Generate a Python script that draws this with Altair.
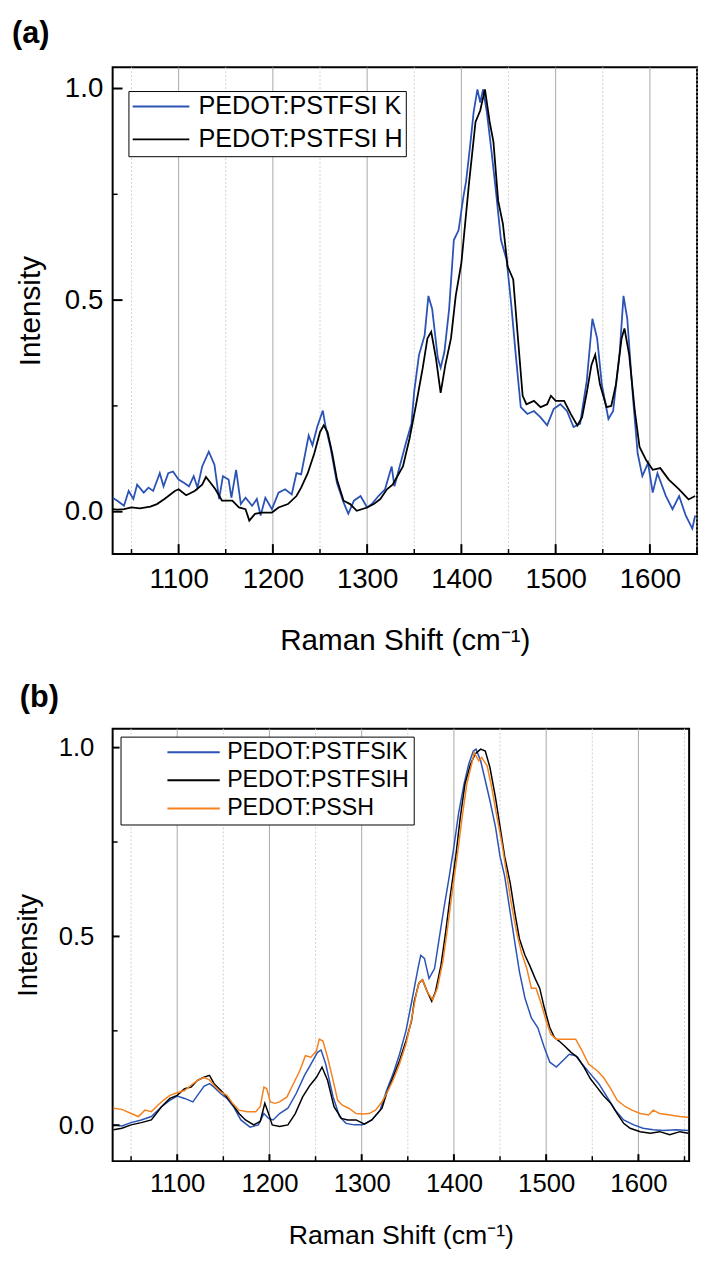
import altair as alt
import pandas as pd

FONT = "Liberation Sans"

# ---------------- Panel (a) data ----------------
a_k_shift = [1030, 1035, 1042, 1047, 1052, 1056, 1063, 1068, 1073, 1080, 1084, 1089, 1094, 1100,
             1106, 1111, 1116, 1120, 1125, 1132, 1138, 1143, 1147, 1153, 1156, 1161, 1166, 1171,
             1178, 1183, 1187, 1192, 1199, 1206, 1213, 1220, 1225, 1230, 1238, 1242, 1247, 1253,
             1256, 1261, 1268, 1275, 1280, 1286, 1293, 1300, 1305, 1312, 1319, 1326, 1329, 1336,
             1341, 1347, 1350, 1355, 1361, 1365, 1369, 1375, 1378, 1382, 1387, 1392, 1397, 1402,
             1405, 1409, 1413, 1417, 1420, 1423, 1427, 1432, 1437, 1442, 1448, 1453, 1458, 1463,
             1470, 1477, 1484, 1491, 1498, 1505, 1512, 1519, 1526, 1533, 1539, 1544, 1549, 1556,
             1561, 1568, 1572, 1576, 1582, 1587, 1592, 1598, 1603, 1608, 1617, 1624, 1631, 1638,
             1645, 1648]
a_k_int = [0.033, 0.026, 0.014, 0.049, 0.030, 0.064, 0.045, 0.057, 0.049, 0.091, 0.060, 0.091, 0.095, 0.076,
           0.068, 0.060, 0.084, 0.057, 0.107, 0.142, 0.111, 0.030, 0.084, 0.076, 0.033, 0.099, 0.018, 0.033,
           0.014, 0.030, -0.009, 0.033, 0.006, 0.045, 0.053, 0.041, 0.091, 0.088, 0.180, 0.157, 0.200, 0.239,
           0.200, 0.153, 0.068, 0.022, -0.005, 0.026, 0.037, 0.010, 0.018, 0.037, 0.053, 0.107, 0.060, 0.119,
           0.161, 0.208, 0.285, 0.370, 0.417, 0.510, 0.479, 0.363, 0.340, 0.378, 0.479, 0.642, 0.665, 0.742,
           0.781, 0.859, 0.944, 0.998, 0.967, 0.998, 0.944, 0.851, 0.750, 0.642, 0.595, 0.487, 0.363, 0.247,
           0.231, 0.238, 0.223, 0.204, 0.243, 0.254, 0.238, 0.200, 0.208, 0.309, 0.456, 0.410, 0.301, 0.219,
           0.238, 0.378, 0.510, 0.456, 0.270, 0.138, 0.084, 0.115, 0.045, 0.091, 0.037, 0.006, 0.037, -0.009,
           -0.040, -0.009]

a_h_shift = [1030, 1035, 1042, 1050, 1059, 1070, 1077, 1085, 1096, 1100, 1108, 1117, 1125, 1129,
             1134, 1139, 1146, 1157, 1164, 1171, 1175, 1181, 1188, 1199, 1206, 1216, 1225, 1230,
             1237, 1244, 1250, 1254, 1258, 1263, 1268, 1275, 1282, 1289, 1300, 1307, 1314, 1321,
             1327, 1338, 1345, 1352, 1359, 1364, 1368, 1373, 1378, 1383, 1389, 1394, 1400, 1408,
             1415, 1420, 1425, 1430, 1434, 1439, 1444, 1449, 1455, 1460, 1465, 1469, 1477, 1484,
             1491, 1495, 1500, 1509, 1516, 1523, 1528, 1533, 1538, 1542, 1547, 1554, 1559, 1564,
             1570, 1573, 1578, 1584, 1589, 1596, 1603, 1611, 1620, 1631, 1641, 1648]
a_h_int = [0.006, 0.005, 0.006, 0.010, 0.008, 0.012, 0.018, 0.030, 0.049, 0.053, 0.039, 0.049, 0.064, 0.082,
           0.068, 0.053, 0.026, 0.026, 0.010, 0.006, -0.021, -0.005, -0.002, -0.002, 0.010, 0.018, 0.037, 0.057,
           0.091, 0.138, 0.188, 0.204, 0.188, 0.138, 0.076, 0.026, 0.018, 0.002, 0.010, 0.018, 0.030, 0.053,
           0.064, 0.107, 0.173, 0.254, 0.340, 0.410, 0.425, 0.363, 0.281, 0.347, 0.410, 0.510, 0.588, 0.774,
           0.921, 0.948, 0.998, 0.921, 0.874, 0.735, 0.681, 0.580, 0.549, 0.410, 0.274, 0.254, 0.262, 0.247,
           0.254, 0.274, 0.262, 0.262, 0.231, 0.204, 0.223, 0.281, 0.347, 0.371, 0.301, 0.247, 0.250, 0.301,
           0.410, 0.433, 0.371, 0.238, 0.153, 0.122, 0.099, 0.103, 0.076, 0.053, 0.029, 0.037]

# ---------------- Panel (b) data ----------------
b_k_shift = [1031, 1040, 1050, 1061, 1072, 1083, 1092, 1100, 1108, 1117, 1122, 1129, 1135, 1140,
             1147, 1154, 1161, 1169, 1179, 1188, 1194, 1199, 1204, 1211, 1220, 1229, 1238, 1245,
             1252, 1256, 1261, 1269, 1276, 1283, 1292, 1301, 1311, 1320, 1327, 1334, 1341, 1348,
             1355, 1361, 1364, 1368, 1373, 1379, 1384, 1389, 1395, 1400, 1405, 1411, 1416, 1421,
             1424, 1429, 1434, 1439, 1445, 1450, 1455, 1461, 1466, 1471, 1477, 1484, 1491, 1498,
             1504, 1511, 1518, 1525, 1532, 1539, 1548, 1557, 1566, 1575, 1584, 1595, 1605, 1616,
             1627, 1641, 1654]
b_k_int = [0.001, -0.002, 0.007, 0.014, 0.023, 0.049, 0.066, 0.077, 0.071, 0.062, 0.079, 0.103, 0.110, 0.101,
           0.084, 0.071, 0.049, 0.014, -0.005, 0.001, 0.031, 0.018, 0.014, 0.031, 0.045, 0.084, 0.132, 0.162,
           0.193, 0.199, 0.162, 0.075, 0.023, 0.005, 0.001, 0.001, 0.014, 0.040, 0.092, 0.136, 0.188, 0.250,
           0.337, 0.415, 0.450, 0.442, 0.389, 0.415, 0.494, 0.572, 0.660, 0.738, 0.825, 0.904, 0.956, 0.991,
           0.996, 0.965, 0.913, 0.860, 0.791, 0.712, 0.660, 0.564, 0.485, 0.407, 0.337, 0.284, 0.258, 0.206,
           0.167, 0.154, 0.171, 0.188, 0.184, 0.162, 0.136, 0.110, 0.075, 0.040, 0.014, 0.001, -0.008, -0.012,
           -0.014, -0.012, -0.014]

b_h_shift = [1031, 1040, 1050, 1061, 1072, 1083, 1092, 1100, 1108, 1115, 1122, 1129, 1135, 1140,
             1149, 1158, 1167, 1174, 1183, 1190, 1195, 1199, 1203, 1211, 1220, 1228, 1236, 1244,
             1251, 1257, 1263, 1270, 1278, 1285, 1294, 1303, 1311, 1322, 1327, 1334, 1341, 1348,
             1354, 1357, 1362, 1366, 1371, 1376, 1380, 1386, 1391, 1396, 1402, 1407, 1412, 1418,
             1423, 1429, 1434, 1439, 1445, 1450, 1455, 1461, 1466, 1471, 1477, 1482, 1488, 1493,
             1498, 1504, 1509, 1514, 1520, 1527, 1534, 1541, 1548, 1555, 1562, 1570, 1577, 1584,
             1591, 1602, 1613, 1623, 1634, 1645, 1654]
b_h_int = [-0.012, -0.008, 0.001, 0.007, 0.014, 0.049, 0.071, 0.079, 0.097, 0.101, 0.119, 0.127, 0.132, 0.110,
           0.088, 0.062, 0.031, 0.014, 0.001, 0.010, 0.058, 0.031, 0.001, -0.003, 0.001, 0.031, 0.075, 0.106,
           0.127, 0.154, 0.119, 0.049, 0.018, 0.014, 0.014, 0.003, 0.014, 0.045, 0.084, 0.127, 0.171, 0.223,
           0.276, 0.328, 0.376, 0.385, 0.354, 0.328, 0.354, 0.424, 0.511, 0.607, 0.712, 0.817, 0.904, 0.956,
           0.983, 0.996, 0.991, 0.948, 0.869, 0.791, 0.712, 0.642, 0.564, 0.494, 0.450, 0.424, 0.389, 0.363,
           0.311, 0.258, 0.232, 0.223, 0.210, 0.193, 0.180, 0.154, 0.123, 0.101, 0.079, 0.058, 0.031, 0.005,
           -0.008, -0.017, -0.021, -0.017, -0.025, -0.017, -0.021]

b_s_shift = [1031, 1040, 1050, 1058, 1065, 1072, 1079, 1085, 1092, 1100, 1108, 1115, 1122, 1129,
             1135, 1140, 1147, 1154, 1160, 1167, 1176, 1185, 1190, 1194, 1197, 1201, 1206, 1211,
             1219, 1226, 1233, 1239, 1245, 1251, 1254, 1258, 1263, 1269, 1274, 1279, 1286, 1294,
             1301, 1308, 1315, 1322, 1327, 1334, 1341, 1348, 1354, 1359, 1362, 1366, 1371, 1377,
             1382, 1388, 1393, 1398, 1404, 1409, 1414, 1420, 1422, 1427, 1430, 1436, 1441, 1446,
             1452, 1457, 1462, 1468, 1473, 1479, 1484, 1489, 1495, 1500, 1505, 1511, 1518, 1525,
             1532, 1539, 1546, 1555, 1562, 1570, 1577, 1586, 1593, 1602, 1611, 1616, 1623, 1634,
             1645, 1654]
b_s_int = [0.045, 0.042, 0.031, 0.023, 0.040, 0.036, 0.053, 0.066, 0.079, 0.086, 0.092, 0.106, 0.119, 0.126,
           0.120, 0.106, 0.088, 0.079, 0.058, 0.040, 0.036, 0.036, 0.049, 0.101, 0.097, 0.062, 0.058, 0.062,
           0.075, 0.110, 0.145, 0.184, 0.180, 0.197, 0.228, 0.223, 0.180, 0.119, 0.066, 0.053, 0.045, 0.031,
           0.030, 0.031, 0.040, 0.062, 0.084, 0.119, 0.162, 0.215, 0.280, 0.346, 0.376, 0.385, 0.354, 0.332,
           0.363, 0.433, 0.520, 0.616, 0.721, 0.817, 0.904, 0.965, 0.987, 0.965, 0.974, 0.952, 0.895, 0.825,
           0.747, 0.668, 0.590, 0.511, 0.459, 0.415, 0.363, 0.363, 0.319, 0.276, 0.241, 0.228, 0.228, 0.228,
           0.228, 0.197, 0.162, 0.145, 0.127, 0.097, 0.066, 0.049, 0.040, 0.031, 0.027, 0.040, 0.031, 0.027,
           0.023, 0.021]

# ---------------- labels, ticks ----------------
names_a = ["PEDOT:PSTFSI K", "PEDOT:PSTFSI H"]
colors_a = ["#2b53b6", "#000000"]
names_b = ["PEDOT:PSTFSIK", "PEDOT:PSTFSIH", "PEDOT:PSSH"]
colors_b = ["#2b53b6", "#000000", "#f4821e"]

x_major = [1100, 1200, 1300, 1400, 1500, 1600]
x_minor = [1050, 1150, 1250, 1350, 1450, 1550, 1650]
y_major = [0.0, 0.5, 1.0]
y_minor = [0.25, 0.75]

X_TITLE = "Raman Shift (cm\u207b\u00b9)"


def panel(series, names, colors, W, H, xdom, ydom, p):
    xs = alt.Scale(domain=xdom, nice=False, zero=False)
    ys = alt.Scale(domain=ydom, nice=False, zero=False)
    xaxis = alt.Axis(values=x_major, format="d", title=X_TITLE, grid=False, ticks=False,
                     domain=False, labelFont=FONT, labelFontSize=p["tick_fs"],
                     labelColor="black", labelPadding=p["xlab_pad"], labelFlush=False,
                     titleFont=FONT, titleFontSize=p["title_fs"], titleFontWeight="normal",
                     titleColor="black", titlePadding=p["xtitle_pad"])
    yaxis = alt.Axis(values=y_major, format=".1f", title="Intensity", grid=False, ticks=False,
                     domain=False, labelFont=FONT, labelFontSize=p["tick_fs"],
                     labelColor="black", labelPadding=p["ylab_pad"], labelFlush=False,
                     titleFont=FONT, titleFontSize=p["ytitle_fs"], titleFontWeight="normal",
                     titleColor="black", titlePadding=p["ytitle_pad"])
    X = lambda: alt.X("x:Q", scale=xs, axis=xaxis)
    Y = lambda: alt.Y("y:Q", scale=ys, axis=yaxis)

    grid_major = alt.Chart(pd.DataFrame({"x": x_major})).mark_rule(
        color="#a9a9a9", strokeWidth=1).encode(x=X())
    grid_minor = alt.Chart(pd.DataFrame({"x": x_minor})).mark_rule(
        color="#cfcfcf", strokeWidth=1, strokeDash=[2, 2]).encode(x=X())
    xt_major = alt.Chart(pd.DataFrame({"x": x_major})).mark_rule(
        color="black", strokeWidth=2).encode(x=X(), y=alt.value(H), y2=alt.value(H - p["major_len"]))
    xt_minor = alt.Chart(pd.DataFrame({"x": x_minor})).mark_rule(
        color="black", strokeWidth=1.5).encode(x=X(), y=alt.value(H), y2=alt.value(H - p["minor_len"]))
    yt_major = alt.Chart(pd.DataFrame({"y": y_major})).mark_rule(
        color="black", strokeWidth=2).encode(y=Y(), x=alt.value(0), x2=alt.value(p["major_len"]))
    yt_minor = alt.Chart(pd.DataFrame({"y": y_minor})).mark_rule(
        color="black", strokeWidth=1.5).encode(y=Y(), x=alt.value(0), x2=alt.value(p["minor_len"]))

    legend = alt.Legend(title=None, orient="none", legendX=p["leg_x"], legendY=p["leg_y"],
                        symbolType="stroke", symbolSize=p["sym_size"],
                        symbolStrokeWidth=2, labelFont=FONT, labelFontSize=p["leg_fs"],
                        labelColor="black", labelOffset=p["lab_off"], labelLimit=500,
                        padding=p["leg_pad"], rowPadding=p["row_pad"], clipHeight=p["leg_fs"],
                        symbolOffset=p["sym_off"], strokeColor="black", fillColor="white")
    cscale = alt.Scale(domain=names, range=colors)

    lines = []
    for (xv, yv), name in zip(series, names):
        df = pd.DataFrame({"x": xv, "y": yv, "sample": name})
        lines.append(alt.Chart(df).mark_line(strokeWidth=p["lw"], clip=True).encode(
            x=X(), y=Y(),
            color=alt.Color("sample:N", scale=cscale, legend=legend, sort=names)))
    layers = [grid_minor, grid_major] + lines + [xt_major, xt_minor, yt_major, yt_minor]
    title = alt.TitleParams(text=p["label"], anchor="start", frame="group", dx=p["title_dx"],
                            fontSize=31, fontWeight="bold", font=FONT, color="black",
                            offset=p["title_off"])
    return alt.layer(*layers).properties(width=W, height=H, title=title)


pa = dict(tick_fs=28, title_fs=30, ytitle_fs=30, xlab_pad=12, xtitle_pad=32.5, ylab_pad=10,
          ytitle_pad=19, major_len=10, minor_len=5, leg_x=16, leg_y=24, sym_size=3290,
          leg_fs=25.5, lab_off=8, leg_pad=3, row_pad=6.2, sym_off=0, lw=1.8,
          label="(a)", title_dx=-102, title_off=17.5)
pb = dict(tick_fs=26, title_fs=27, ytitle_fs=28, xlab_pad=10, xtitle_pad=26, ylab_pad=19,
          ytitle_pad=16, major_len=7, minor_len=5, leg_x=8, leg_y=8, sym_size=2810,
          leg_fs=23.5, lab_off=6, leg_pad=4, row_pad=3.5, sym_off=42, lw=1.5,
          label="(b)", title_dx=-94, title_off=14.7)

chart_a = panel([(a_k_shift, a_k_int), (a_h_shift, a_h_int)], names_a, colors_a,
                592, 493, [1030, 1650], [-0.1, 1.05], pa)
chart_b = panel([(b_k_shift, b_k_int), (b_h_shift, b_h_int), (b_s_shift, b_s_int)], names_b, colors_b,
                584, 438, [1030, 1655], [-0.095, 1.05], pb)

chart = alt.vconcat(chart_a, chart_b, spacing=24).resolve_scale(
    color="independent").resolve_legend(color="independent").properties(
    padding={"left": 3, "top": 1, "right": 0, "bottom": 0}, background="white"
).configure_view(stroke="black", strokeWidth=2)

chart.save("out.html", embed_options={"renderer": "svg", "actions": False})
